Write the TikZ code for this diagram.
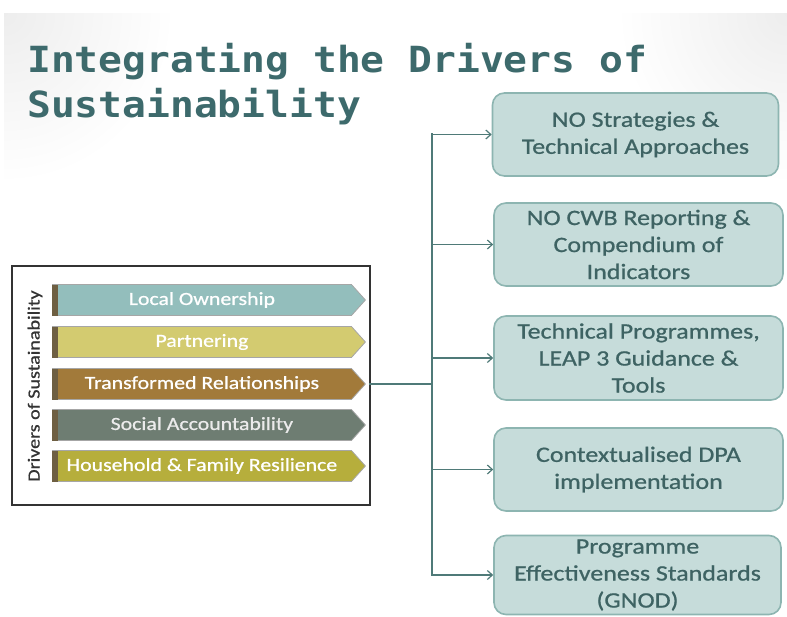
\documentclass[tikz,border=0pt]{standalone}
\usepackage{fontspec}
\setmainfont{Carlito}[FakeStretch=1.18]
\newfontfamily\boxfont{Carlito}[FakeStretch=1.18,FakeBold=0.8]
\newfontfamily\titlefont{DejaVu Sans Mono}[FakeStretch=1.1]
\usetikzlibrary{shapes.arrows,arrows.meta,calc}
\definecolor{titlecol}{HTML}{3D6A6C}
\definecolor{boxfill}{HTML}{C6DCDA}
\definecolor{boxline}{HTML}{8DB5B1}
\definecolor{boxtext}{HTML}{3E6363}
\definecolor{linkcol}{HTML}{4F7A78}
\definecolor{cLO}{HTML}{93BEBC}
\definecolor{cPA}{HTML}{D3CB70}
\definecolor{cTR}{HTML}{A27A3A}
\definecolor{cSA}{HTML}{6E7D72}
\definecolor{cHF}{HTML}{B6AE3C}
\definecolor{stripe}{HTML}{6E5F42}
\begin{document}
\begin{tikzpicture}[x=1pt,y=-1pt,
  drv/.style={single arrow, single arrow head extend=0pt, single arrow tip angle=96,
    minimum height=313pt, minimum width=31pt, inner sep=2pt, anchor=tail,
    draw=black!35, line width=0.8pt, text=white,
    font=\boxfont\fontsize{18.5}{20}\selectfont},
  goal/.style={draw=boxline, fill=boxfill, line width=1.6pt, rounded corners=12pt,
    align=center, text=boxtext, font=\boxfont\fontsize{22}{27}\selectfont, inner sep=2pt},
  link/.style={draw=linkcol, line width=1.6pt},
  branch/.style={link, -{Straight Barb[length=5pt,width=9pt,line width=1.2pt]}}
]
\useasboundingbox (0,0) rectangle (787,616);
\fill[white] (0,0) rectangle (787,616);
\begin{scope}
  \clip (4,13) rectangle (787,616);
  \shade[inner color=black!7, outer color=white] (4,13) circle (170);
  \shade[inner color=black!7, outer color=white] (787,13) circle (170);
\end{scope}

% title
\node[anchor=base west, inner sep=0, text=titlecol, font=\titlefont\bfseries\fontsize{36}{43}\selectfont] (t1) at (27,72) {Integrating the Drivers of};
\node[anchor=base west, inner sep=0, text=titlecol, font=\titlefont\bfseries\fontsize{36}{43}\selectfont] (t2) at (27,117) {Sustainability};

% frame of drivers
\node[draw=black!80, line width=1.3pt, minimum width=358pt, minimum height=239pt, inner sep=0] (frame) at (191,385.5) {};
\node[rotate=90, text=black!80, font=\boxfont\fontsize{17}{18}\selectfont] (lbl) at (35,386) {Drivers of Sustainability};

% driver arrows
\node[drv, fill=cLO] (lo) at (52,300) {Local Ownership};
\node[drv, fill=cPA] (pa) at (52,342) {Partnering};
\node[drv, fill=cTR] (tr) at (52,384) {Transformed Relationships};
\node[drv, fill=cSA, text=white!92!black] (sa) at (52,425) {Social Accountability};
\node[drv, fill=cHF] (hf) at (52,466) {Household \& Family Resilience};
\foreach \n in {lo,pa,tr,sa,hf}{
  \fill[stripe] ($(\n.tail)+(0,-15.5)$) rectangle ($(\n.tail)+(6,15.5)$);
}

% goal boxes
\node[goal, minimum width=286pt, minimum height=83pt] (b1) at (635.5,134.5) {NO Strategies \&\\Technical Approaches};
\node[goal, minimum width=289pt, minimum height=83pt] (b2) at (638.5,244.5) {NO CWB Reporting \&\\Compendium of\\Indicators};
\node[goal, minimum width=289pt, minimum height=84pt] (b3) at (638.5,358) {Technical Programmes,\\LEAP 3 Guidance \&\\Tools};
\node[goal, minimum width=289pt, minimum height=83pt] (b4) at (638.5,469.5) {Contextualised DPA\\implementation};
\node[goal, minimum width=287pt, minimum height=79pt] (b5) at (637.5,575) {Programme\\Effectiveness Standards\\(GNOD)};

% connectors
\coordinate (jt) at (432,133);
\coordinate (jb) at (432,576);
\draw[link, line width=2.6pt] ($(tr.tip)+(3,0)$) -- (tr.tip -| jt);
\draw[link, line width=2pt] (jt) -- (jb);
\foreach \b in {b1,b2,b3,b4,b5}{
  \draw[branch] (\b.west -| jt) -- (\b.west);
}
\end{tikzpicture}
\end{document}
